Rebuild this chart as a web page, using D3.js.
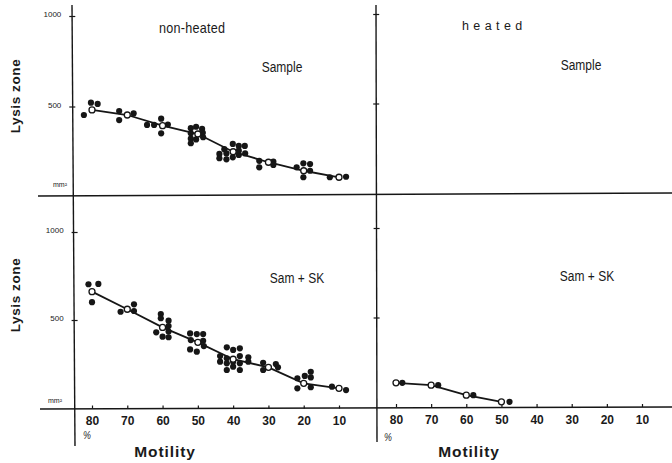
<!DOCTYPE html>
<html><head><meta charset="utf-8">
<script src="https://cdn.jsdelivr.net/npm/d3@7"></script>
<style>
html,body{margin:0;padding:0;background:#fff;}
svg text{font-family:"Liberation Sans",Arial,sans-serif;fill:#1a1a1a;}
</style></head>
<body><svg id="c" width="672" height="463"></svg>
<script>
// ---- data ----
const motilityTicks = [80,70,60,50,40,30,20,10];
const yTickValues = [500,1000];
const meanMotility = [80,70,60,50,40,30,20,10];
const nonHeatedSampleMeans = [481,453,394,348,250,192,145,109];
const nonHeatedSamSKMeans = [661,561,458,373,277,231,140,112];
const heatedSamSKMotility = [80,70,60,50];
const heatedSamSKMeans = [135,122,66,29];
// individual observations [motility %, lysis zone mm²]
const nonHeatedSampleObs = [
 [82.3,453],[80.3,521],[78.4,514],
 [72.3,475],[72.3,425],[68.2,462],
 [64.4,398],[62.4,398],[60.4,433],[60.4,352],[58.5,400],
 [52,380],[50.5,388],[48.8,376],[52,352],[48.6,355],[52,322],[50.5,318],[48.5,330],[52,297],
 [43.9,238],[42.5,264],[40.1,293],[38.4,282],[36.7,282],[43.9,214],[41.9,208],[40.1,219],[38.4,232],[36.6,241],[41.9,241],[38.4,256],
 [32.6,200],[32.6,164],[28.6,195],[28.6,177],
 [22,164],[20.1,186],[18.2,182],[20.1,109],[18.2,145],
 [12.6,109],[8,112]
];
const nonHeatedSamSKObs = [
 [81,703],[78.2,705],[80,601],
 [71.9,547],[68.1,589],[68.1,551],
 [60.5,534],[60.5,510],[58.3,496],[58.3,466],[58.3,434],[61.8,430],[60,405],[58.3,402],
 [52.2,424],[50.3,420],[48.5,420],[52,386],[48.5,382],[52.2,333],[50.3,320],[48.3,352],
 [41.8,345],[40,330],[38.1,339],[43.7,295],[41.8,282],[38.1,295],[35.7,288],[43.7,263],[41.8,254],[40,263],[38.1,254],[35.7,263],[41.8,216],[40,235],[38.1,216],
 [31.5,257],[31.5,216],[27.9,250],[27.3,231],
 [21.8,169],[19.7,182],[18,206],[18,174],[21.8,112],[18,118],
 [12,121],[8,102]
];
const heatedSamSKObs = [[78.2,135],[68,122],[58,66],[47.7,29]];

// ---- scales ----
const xLeft = d3.scaleLinear().domain([80,10]).range([92,339]);
const xRight = d3.scaleLinear().domain([80,10]).range([396,642]);
const yTop = d3.scaleLinear().domain([0,1000]).range([197,16]);
const yBot = d3.scaleLinear().domain([0,1000]).range([408,232]);
const yTopR = d3.scaleLinear().domain([0,1000]).range([193,14]);
const yBotR = d3.scaleLinear().domain([0,1000]).range([407,228]);

const svg = d3.select("#c");
const ink = "#161616";

// frame lines
svg.append("line").attr("x1",38).attr("y1",196).attr("x2",672).attr("y2",193).attr("stroke",ink).attr("stroke-width",1.6);
svg.append("line").attr("x1",40).attr("y1",409).attr("x2",672).attr("y2",407).attr("stroke",ink).attr("stroke-width",1.6);
svg.append("line").attr("x1",72).attr("y1",5).attr("x2",75).attr("y2",446).attr("stroke",ink).attr("stroke-width",1.4);
svg.append("line").attr("x1",376).attr("y1",5).attr("x2",377).attr("y2",442).attr("stroke",ink).attr("stroke-width",1.4);

// y axes (ticks crossing the axis line)
function yTicks(scale, ax, labels){
  const g = svg.append("g").attr("transform",`translate(${ax},0)`);
  const axis = d3.axisLeft(scale).tickValues(yTickValues).tickSizeInner(3).tickSizeOuter(0).tickPadding(8).tickFormat(d3.format("d"));
  g.call(axis);
  g.select(".domain").remove();
  g.selectAll(".tick line").attr("stroke",ink).attr("stroke-width",1.2).attr("x2",3).attr("x1",-3);
  if(labels){
    g.selectAll(".tick text").attr("font-size",8).attr("dy","0.1em").attr("fill","#222")
      .style("font-family","'Liberation Sans',sans-serif");
  } else g.selectAll(".tick text").remove();
}
yTicks(yTop,72.3,true);
yTicks(yBot,74.6,true);
yTicks(yTopR,376.2,false);
yTicks(yBotR,376.6,false);

// x axes
function xAxis(scale, y){
  const g = svg.append("g").attr("transform",`translate(0,${y})`);
  g.call(d3.axisBottom(scale).tickValues(motilityTicks).tickSizeInner(-3).tickSizeOuter(0).tickPadding(8).tickFormat(d3.format("d")));
  g.select(".domain").remove();
  g.selectAll(".tick line").attr("stroke",ink).attr("stroke-width",1.2);
  g.selectAll(".tick text").attr("font-size",12).attr("font-weight","bold").attr("fill",ink)
    .style("font-family","'Liberation Sans',sans-serif");
}
xAxis(xLeft,408.5);
xAxis(xRight,407);

// series
function series(xs, ys, meansX, meansY, obs){
  const line = d3.line().x(d=>xs(d[0])).y(d=>ys(d[1]));
  const pts = meansX.map((m,i)=>[m,meansY[i]]);
  svg.append("path").datum(pts).attr("d",line).attr("fill","none").attr("stroke",ink).attr("stroke-width",1.8);
  svg.append("g").selectAll("circle").data(obs).join("circle")
    .attr("cx",d=>xs(d[0])).attr("cy",d=>ys(d[1])).attr("r",3.1).attr("fill",ink);
  svg.append("g").selectAll("circle").data(pts).join("circle")
    .attr("cx",d=>xs(d[0])).attr("cy",d=>ys(d[1])).attr("r",3).attr("fill","#fff").attr("stroke",ink).attr("stroke-width",1.3);
}
series(xLeft,yTop,meanMotility,nonHeatedSampleMeans,nonHeatedSampleObs);
series(xLeft,yBot,meanMotility,nonHeatedSamSKMeans,nonHeatedSamSKObs);
series(xRight,yBotR,heatedSamSKMotility,heatedSamSKMeans,heatedSamSKObs);

// texts (sx compresses horizontally to imitate the condensed typeface)
function txt(x,y,s,opt={}){
  const sx = opt.sx||1;
  let tr = `translate(${x},${y})`;
  if(opt.rot) tr += ` rotate(${opt.rot})`;
  tr += ` scale(${sx},1)`;
  const t = svg.append("text").attr("x",0).attr("y",0).attr("transform",tr).text(s)
    .attr("font-size",opt.size||13).attr("text-anchor",opt.anchor||"start");
  if(opt.bold) t.attr("font-weight","bold");
  if(opt.ls) t.attr("letter-spacing",opt.ls);
  if(opt.italic) t.attr("font-style","italic");
  return t;
}
txt(159,33,"non-heated",{size:14,sx:0.9,ls:0.3});
txt(462,30,"heated",{size:12.5,ls:4.4});
txt(282,72,"Sample",{size:15,anchor:"middle",sx:0.8});
txt(581,70,"Sample",{size:15,anchor:"middle",sx:0.8});
txt(297,283,"Sam + SK",{size:15,anchor:"middle",sx:0.8});
txt(587,281,"Sam + SK",{size:15,anchor:"middle",sx:0.8});
txt(20,96,"Lysis  zone",{size:13.5,bold:true,anchor:"middle",rot:-90,ls:0.6});
txt(20,295,"Lysis  zone",{size:13.5,bold:true,anchor:"middle",rot:-90,ls:0.6});
txt(53,187,"mm²",{size:7});
txt(48,403,"mm²",{size:7});
txt(83,439,"%",{size:10.5,italic:true,sx:0.85});
txt(384,441,"%",{size:10.5,italic:true,sx:0.85});
txt(165,457,"Motility",{size:15.5,bold:true,anchor:"middle",ls:0.9});
txt(469,457,"Motility",{size:15.5,bold:true,anchor:"middle",ls:0.9});
</script></body></html>
